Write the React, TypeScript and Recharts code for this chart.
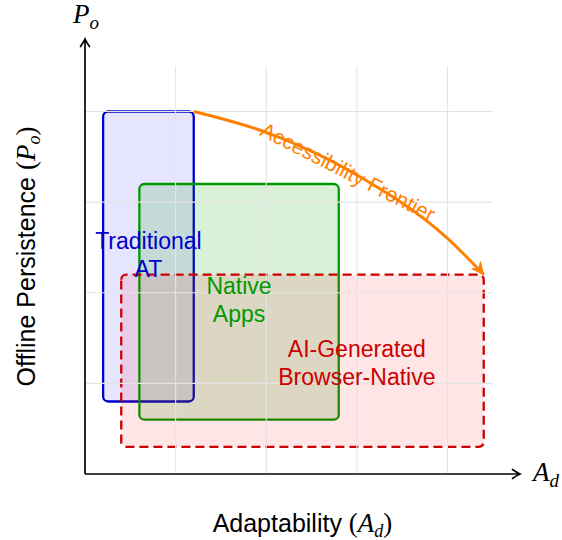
import React from 'react';
import { ComposedChart, XAxis, YAxis, ReferenceArea, ReferenceLine, ReferenceDot, Line, Rectangle } from 'recharts';

// ---- data ----
const gridTicksX = [1, 2, 3, 4];
const gridTicksY = [1, 2, 3, 4];
const gridMax = 4.5;
const axisMax = 4.8;

const regionNames = ['Traditional AT', 'Native Apps', 'AI-Generated Browser-Native'];
const regionAd = [[0.2, 1.2], [0.6, 2.8], [0.4, 4.4]];
const regionPo = [[0.8, 4.0], [0.6, 3.2], [0.3, 2.2]];
const regionLabelLines = [['Traditional', 'AT'], ['Native', 'Apps'], ['AI-Generated', 'Browser-Native']];
const regionLabelAd = [0.7, 1.7, 3.0];
const regionLabelPo = [2.4, 1.9, 1.2];

const frontierAd = [1.2, 2.0, 3.0, 4.0, 4.4];
const frontierPo = [4.0, 3.77, 3.3, 2.6, 2.2];
const frontierLabel = 'Accessibility Frontier';
const frontierLabelAd = 2.9;
const frontierLabelPo = 3.33;

const xTitle = 'Adaptability';
const yTitle = 'Offline Persistence';

// ---- styles ----
const W = 562;
const H = 540;
const SANS = '"Liberation Sans", Arial, sans-serif';
const SERIF = '"Liberation Serif", "Times New Roman", serif';
const regionStroke = ['#0000cc', '#009900', '#cc0000'];
const regionFill = ['#0000ff', '#009900', '#ff0000'];
const regionFillOpacity = [0.1, 0.15, 0.1];
const regionDash = [undefined, undefined, '9 5'];
const orange = '#ff8000';

const frontierData = frontierAd.map((x, i) => ({ x, y: frontierPo[i] }));

const axisArrow = (x: number, y: number, angle: number, color = '#000') => (
  <path
    d="M -7.5 -4.5 Q -2.5 -1 0 0 Q -2.5 1 -7.5 4.5"
    fill="none"
    stroke={color}
    strokeWidth={1.7}
    strokeLinecap="round"
    transform={`translate(${x},${y}) rotate(${angle})`}
  />
);

const XAxisShape = (p: any) => {
  const { x1, y1, x2, y2 } = p;
  const mid = (x1 + x2) / 2;
  return (
    <g>
      <line x1={x1} y1={y1} x2={x2} y2={y2} stroke="#000" strokeWidth={1.7} />
      {axisArrow(x2, y2, 0)}
      <text x={x2 + 13} y={y2 + 7} fontFamily={SERIF} fontStyle="italic" fontSize={27} fill="#000">
        A<tspan fontSize={19} dy={6}>d</tspan>
      </text>
      <text x={mid} y={y1 + 58} fontFamily={SANS} fontSize={25} fill="#000" textAnchor="middle">
        {xTitle} <tspan fontFamily={SERIF} fontSize={27}>(</tspan>
        <tspan fontFamily={SERIF} fontStyle="italic" fontSize={27}>A</tspan>
        <tspan fontFamily={SERIF} fontStyle="italic" fontSize={18} dy={5}>d</tspan>
        <tspan fontFamily={SERIF} fontSize={27} dy={-5}>)</tspan>
      </text>
    </g>
  );
};

const YAxisShape = (p: any) => {
  const { x1, y1, x2, y2 } = p;
  const mid = (y1 + y2) / 2;
  const tx = x1 - 50;
  return (
    <g>
      <line x1={x1} y1={y1} x2={x2} y2={y2} stroke="#000" strokeWidth={1.7} />
      {axisArrow(x2, y2, -90)}
      <text x={x2 - 12} y={y2 - 16} fontFamily={SERIF} fontStyle="italic" fontSize={27} fill="#000">
        P<tspan fontSize={19} dy={6}>o</tspan>
      </text>
      <text
        x={tx}
        y={mid}
        fontFamily={SANS}
        fontSize={25}
        fill="#000"
        textAnchor="middle"
        transform={`rotate(-90, ${tx}, ${mid})`}
      >
        {yTitle} <tspan fontFamily={SERIF} fontSize={27}>(</tspan>
        <tspan fontFamily={SERIF} fontStyle="italic" fontSize={27}>P</tspan>
        <tspan fontFamily={SERIF} fontStyle="italic" fontSize={18} dy={5}>o</tspan>
        <tspan fontFamily={SERIF} fontSize={27} dy={-5}>)</tspan>
      </text>
    </g>
  );
};

const GridShape = (p: any) => (
  <line x1={p.x1} y1={p.y1} x2={p.x2} y2={p.y2} stroke="#e4e4e4" strokeWidth={1.1} />
);

const FrontierDot = (p: any) => {
  const { cx, cy, index, points } = p;
  if (index !== frontierData.length - 1) return <g key={`d${index}`} />;
  let angle = 45;
  if (points && points.length > 1) {
    const a = points[points.length - 2];
    angle = (Math.atan2(cy - a.y, cx - a.x) * 180) / Math.PI + 6;
  }
  return (
    <path
      key={`d${index}`}
      d="M 0 0 L -12 -5.5 L -8 0 L -12 5.5 Z"
      fill={orange}
      stroke={orange}
      strokeWidth={1}
      strokeLinejoin="round"
      transform={`translate(${cx},${cy}) rotate(${angle})`}
    />
  );
};

const makeLabel = (i: number) => (p: any) => {
  const { cx, cy } = p;
  const lines = regionLabelLines[i];
  return (
    <text fontFamily={SANS} fontSize={23} fill={regionStroke[i]} textAnchor="middle">
      <tspan x={cx} y={cy - 8}>{lines[0]}</tspan>
      <tspan x={cx} y={cy + 20}>{lines[1]}</tspan>
    </text>
  );
};

const FrontierLabel = (p: any) => {
  const { cx, cy } = p;
  return (
    <text
      x={cx}
      y={cy + 7}
      fontFamily={SANS}
      fontSize={21}
      fill={orange}
      textAnchor="middle"
      transform={`rotate(27, ${cx}, ${cy})`}
    >
      {frontierLabel}
    </text>
  );
};

export default function App() {
  return (
    <div style={{ position: 'absolute', left: 0, top: 0, width: W, height: H, background: '#fff' }}>
      <ComposedChart
        width={W}
        height={H}
        data={frontierData}
        margin={{ top: 39, right: 42, bottom: 66, left: 85 }}
      >
        <XAxis type="number" dataKey="x" domain={[0, axisMax]} hide allowDataOverflow />
        <YAxis type="number" dataKey="y" domain={[0, axisMax]} hide allowDataOverflow />

        {gridTicksX.map((t) => (
          <ReferenceLine
            key={`gx${t}`}
            segment={[{ x: t, y: 0 }, { x: t, y: gridMax }]}
            shape={GridShape}
            ifOverflow="visible"
          />
        ))}
        {gridTicksY.map((t) => (
          <ReferenceLine
            key={`gy${t}`}
            segment={[{ x: 0, y: t }, { x: gridMax, y: t }]}
            shape={GridShape}
            ifOverflow="visible"
          />
        ))}

        {regionNames.map((name, i) => (
          <ReferenceArea
            key={name}
            x1={regionAd[i][0]}
            x2={regionAd[i][1]}
            y1={regionPo[i][0]}
            y2={regionPo[i][1]}
            ifOverflow="visible"
            shape={(p: any) => (
              <Rectangle
                x={p.x}
                y={p.y}
                width={p.width}
                height={p.height}
                radius={5}
                fill={regionFill[i]}
                fillOpacity={regionFillOpacity[i]}
                stroke={regionStroke[i]}
                strokeWidth={2.3}
                strokeDasharray={regionDash[i]}
              />
            )}
          />
        ))}

        <ReferenceLine
          segment={[{ x: 0, y: 0 }, { x: axisMax, y: 0 }]}
          shape={XAxisShape}
          ifOverflow="visible"
        />
        <ReferenceLine
          segment={[{ x: 0, y: 0 }, { x: 0, y: axisMax }]}
          shape={YAxisShape}
          ifOverflow="visible"
        />

        <Line
          type="monotone"
          dataKey="y"
          stroke={orange}
          strokeWidth={2.9}
          dot={FrontierDot}
          activeDot={false}
          isAnimationActive={false}
        />

        {regionNames.map((name, i) => (
          <ReferenceDot
            key={`lbl${name}`}
            x={regionLabelAd[i]}
            y={regionLabelPo[i]}
            r={0}
            ifOverflow="visible"
            shape={makeLabel(i)}
          />
        ))}
        <ReferenceDot
          x={frontierLabelAd}
          y={frontierLabelPo}
          r={0}
          ifOverflow="visible"
          shape={FrontierLabel}
        />
      </ComposedChart>
    </div>
  );
}
